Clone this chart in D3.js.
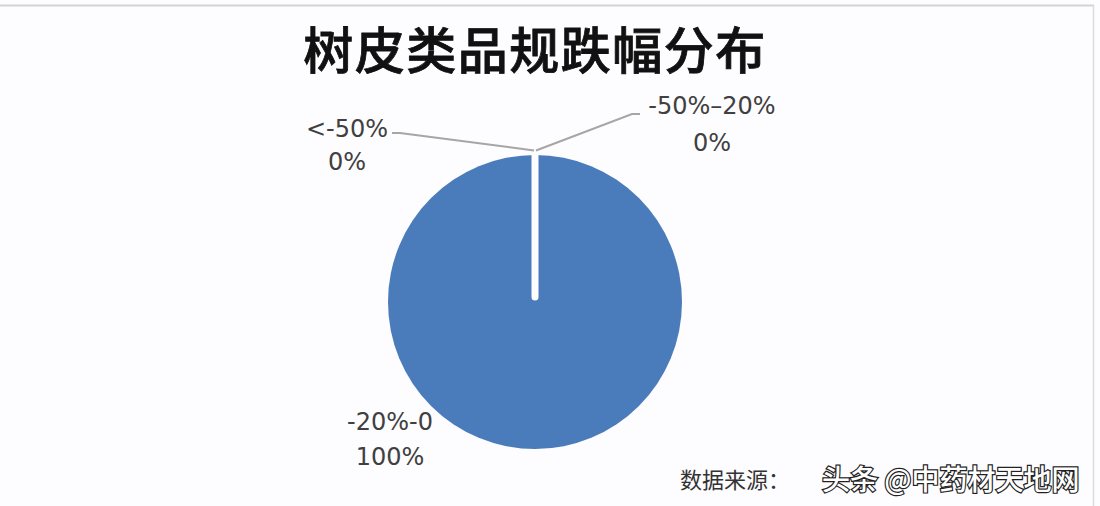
<!DOCTYPE html>
<html><head><meta charset="utf-8">
<script src="https://cdn.jsdelivr.net/npm/d3@7"></script>
<style>
html,body{margin:0;padding:0;background:#fdfcfe;}
svg{display:block;}
</style></head>
<body>
<svg id="c" width="1100" height="506"></svg>
<script>
const title = "树皮类品规跌幅分布";
const categories = ["<-50%", "-50%–20%", "-20%-0"];
const values = [0, 0, 100];
const percentLabels = ["0%", "0%", "100%"];
const sourceLabel = "数据来源：";
const watermark = "头条 @中药材天地网";

const W = 1100, H = 506;
const svg = d3.select("#c");
const cx = 535, cy = 302, R = 147;
const color = "#4a7bbb";
const labelFont = "'DejaVu Sans','Open Sans',sans-serif";

// frame
svg.append("rect").attr("x",0).attr("y",0).attr("width",W).attr("height",H).attr("fill","#fdfcfe");
svg.append("line").attr("x1",0).attr("x2",1094).attr("y1",5.5).attr("y2",5.5).attr("stroke","#d4d4d6").attr("stroke-width",2);
svg.append("line").attr("x1",1093.5).attr("x2",1093.5).attr("y1",5).attr("y2",H).attr("stroke","#dcdcde").attr("stroke-width",1.5);

// title
svg.append("text").attr("x",535).attr("y",69).attr("text-anchor","middle")
  .attr("font-family","'Noto Sans CJK SC',sans-serif").attr("font-weight",500)
  .attr("font-size",50).attr("fill","#111").attr("letter-spacing",1.5)
  .attr("stroke","#111").attr("stroke-width",0.8).text(title);

const g = svg.append("g").attr("transform",`translate(${cx},${cy})`);
const pie = d3.pie().sort(null).value(d=>d)(values);
const arc = d3.arc().innerRadius(0).outerRadius(R);

g.selectAll("path.slice").data(pie).join("path").attr("class","slice")
  .attr("d",arc).attr("fill",color);

// slice border (white separator along zero-width slices)
const p0 = d3.pointRadial(pie[0].startAngle, R+4);
g.append("line").attr("x1",0).attr("y1",-5).attr("x2",p0[0]).attr("y2",p0[1])
  .attr("stroke","#fdfcfe").attr("stroke-width",7).attr("stroke-linecap","round");

// leader lines for zero slices
const apex = d3.pointRadial(pie[0].startAngle, R+3.5);
const leaders = [
  [[apex[0]-1, apex[1]-1],[400-cx,133-cy],[392-cx,133-cy]],
  [[apex[0]+1, apex[1]-1],[632-cx,114-cy],[640-cx,114-cy]]
];
g.selectAll("path.leader").data(leaders).join("path").attr("class","leader")
  .attr("d",d=>d3.line()(d)).attr("fill","none").attr("stroke","#a6a6a6").attr("stroke-width",2);

// labels
const labelPos = [
  {x:347, y1:137, y2:170},
  {x:712, y1:114, y2:151},
  {x:390, y1:430, y2:465}
];
categories.forEach((c,i)=>{
  const t = svg.append("text").attr("text-anchor","middle")
    .attr("font-family",labelFont).attr("font-size",24).attr("fill","#404040");
  t.append("tspan").attr("x",labelPos[i].x).attr("y",labelPos[i].y1).text(c);
  t.append("tspan").attr("x",labelPos[i].x).attr("y",labelPos[i].y2).text(percentLabels[i]);
});

// source
svg.append("text").attr("x",680).attr("y",488)
  .attr("font-family","'Noto Sans CJK SC',sans-serif").attr("font-size",22)
  .attr("fill","#333").text(sourceLabel);
svg.append("text").attr("x",822).attr("y",490)
  .attr("font-family","'Noto Sans CJK SC',sans-serif").attr("font-size",28).attr("font-weight",500)
  .attr("fill","#ffffff").attr("stroke","#222").attr("stroke-width",2.4).attr("paint-order","stroke")
  .text(watermark);
</script>
</body></html>
